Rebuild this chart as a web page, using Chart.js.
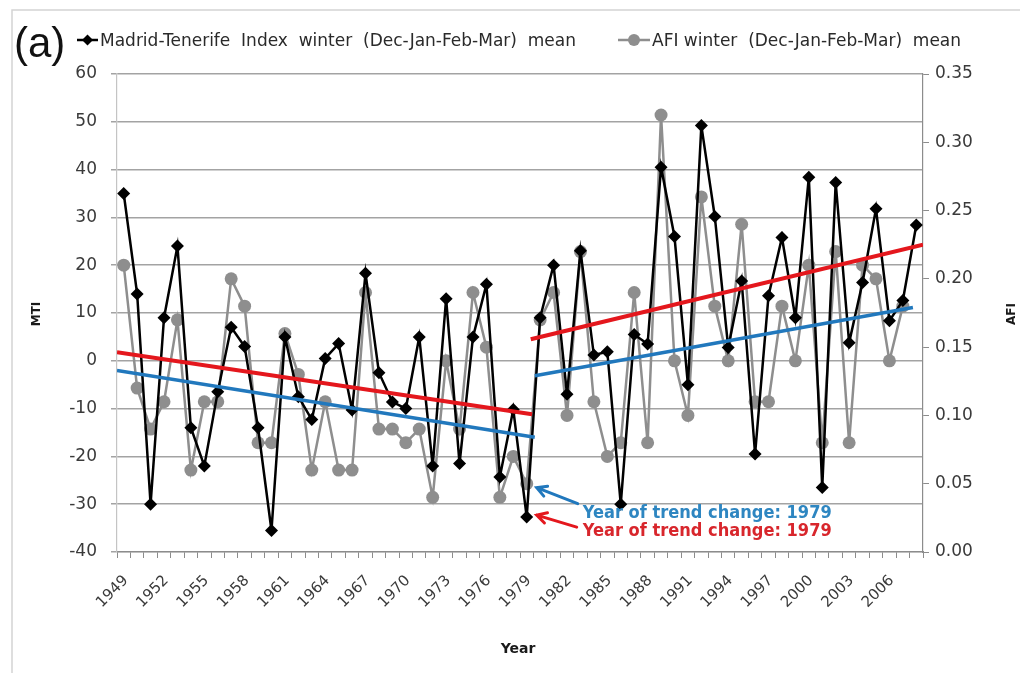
<!DOCTYPE html>
<html>
<head>
<meta charset="utf-8">
<title>MTI and AFI winter mean</title>
<script src="https://cdn.jsdelivr.net/npm/chart.js@4.4.1/dist/chart.umd.min.js"></script>
<style>
  html, body { margin: 0; padding: 0; background: #fff; }
  #wrap { width: 1026px; height: 673px; }
</style>
</head>
<body>
<div id="wrap"><canvas id="chart" width="1026" height="673"></canvas></div>
<script>
// data
const years = [1949, 1950, 1951, 1952, 1953, 1954, 1955, 1956, 1957, 1958,
  1959, 1960, 1961, 1962, 1963, 1964, 1965, 1966, 1967, 1968,
  1969, 1970, 1971, 1972, 1973, 1974, 1975, 1976, 1977, 1978,
  1979, 1980, 1981, 1982, 1983, 1984, 1985, 1986, 1987, 1988,
  1989, 1990, 1991, 1992, 1993, 1994, 1995, 1996, 1997, 1998,
  1999, 2000, 2001, 2002, 2003, 2004, 2005, 2006, 2007, 2008];
const mti = [35, 14, -30, 9, 24, -14, -22, -6.5, 7, 3,
  -14, -35.5, 5, -7.5, -12.3, 0.5, 3.6, -10.3, 18.3, -2.5,
  -8.6, -10, 5, -22, 13, -21.5, 5, 16, -24.3, -10.2,
  -32.7, 9, 20, -7, 23, 1.2, 1.9, -30, 5.5, 3.5,
  40.5, 26, -5, 49.2, 30.2, 2.8, 16.7, -19.5, 13.6, 25.8,
  9, 38.4, -26.5, 37.3, 3.8, 16.4, 31.8, 8.4, 12.6, 28.4];
const afi = [0.21, 0.12, 0.09, 0.11, 0.17, 0.06, 0.11, 0.11, 0.20, 0.18,
  0.08, 0.08, 0.16, 0.13, 0.06, 0.11, 0.06, 0.06, 0.19, 0.09,
  0.09, 0.08, 0.09, 0.04, 0.14, 0.09, 0.19, 0.15, 0.04, 0.07,
  0.05, 0.17, 0.19, 0.10, 0.22, 0.11, 0.07, 0.08, 0.19, 0.08,
  0.32, 0.14, 0.10, 0.26, 0.18, 0.14, 0.24, 0.11, 0.11, 0.18,
  0.14, 0.21, 0.08, 0.22, 0.08, 0.21, 0.20, 0.14, 0.18, null];
const labelYears = [1949, 1952, 1955, 1958, 1961, 1964, 1967, 1970, 1973, 1976,
  1979, 1982, 1985, 1988, 1991, 1994, 1997, 2000, 2003, 2006];

// trend segments (start, end) as drawn in the figure
const mtiTrendYears = [[1948.5, 1979.4], [1979.3, 2008.5]];
const mtiTrendValues = [[1.8, -11.2], [4.5, 24.3]];
const afiTrendYears = [[1948.5, 1979.6], [1979.6, 2007.75]];
const afiTrendValues = [[0.133, 0.084], [0.129, 0.179]];

const changeYear = 1979;
const mtiName = 'Madrid-Tenerife  Index  winter  (Dec-Jan-Feb-Mar)  mean';
const afiName = 'AFI winter  (Dec-Jan-Feb-Mar)  mean';
const changeText = 'Year of trend change: 1979';

const BLACK = '#000000';
const GRAY = '#8e8e8e';
const RED = '#e4171d';
const BLUE = '#2178bd';
const TXT = '#3a3a3a';
const FONT = 'DejaVu Sans';

let tickBounds = years.map(y => y - 0.5);
tickBounds.push(years[years.length - 1] + 0.5);

function pairs(xs, ys) {
  return xs.map((x, i) => ({ x: x, y: ys[i] }));
}

function diamond(ctx, x, y, r) {
  ctx.beginPath();
  ctx.moveTo(x, y - r);
  ctx.lineTo(x + r, y);
  ctx.lineTo(x, y + r);
  ctx.lineTo(x - r, y);
  ctx.closePath();
  ctx.fill();
}

function arrow(ctx, x1, y1, x2, y2, color) {
  let a = Math.atan2(y2 - y1, x2 - x1);
  ctx.save();
  ctx.strokeStyle = color;
  ctx.lineWidth = 3;
  ctx.lineCap = 'round';
  ctx.beginPath();
  ctx.moveTo(x1, y1);
  ctx.lineTo(x2, y2);
  ctx.moveTo(x2 - 11 * Math.cos(a - 0.5), y2 - 11 * Math.sin(a - 0.5));
  ctx.lineTo(x2, y2);
  ctx.lineTo(x2 - 11 * Math.cos(a + 0.5), y2 - 11 * Math.sin(a + 0.5));
  ctx.stroke();
  ctx.restore();
}

// everything Chart.js does not draw by itself: frame, legend, titles, notes
const extras = {
  id: 'extras',
  afterDraw(chart) {
    const ctx = chart.ctx;
    const sx = chart.scales.x, sy = chart.scales.y, sy1 = chart.scales.y1;
    ctx.save();

    ctx.strokeStyle = '#d4d4d4';
    ctx.lineWidth = 1.5;
    ctx.beginPath();
    ctx.moveTo(12, 673);
    ctx.lineTo(12, 10);
    ctx.lineTo(1020, 10);
    ctx.stroke();

    ctx.fillStyle = '#111';
    ctx.font = '42px "Liberation Sans"';
    ctx.textBaseline = 'alphabetic';
    ctx.textAlign = 'left';
    ctx.fillText('(a)', 14, 57);

    // legend
    ctx.strokeStyle = BLACK;
    ctx.fillStyle = BLACK;
    ctx.lineWidth = 2.5;
    ctx.beginPath(); ctx.moveTo(77, 40); ctx.lineTo(98, 40); ctx.stroke();
    diamond(ctx, 87.5, 40, 5.5);
    ctx.fillStyle = '#2a2a2a';
    ctx.font = '17px ' + FONT;
    ctx.fillText(mtiName, 100, 46, 502);

    ctx.strokeStyle = GRAY;
    ctx.fillStyle = GRAY;
    ctx.beginPath(); ctx.moveTo(618, 40); ctx.lineTo(650, 40); ctx.stroke();
    ctx.beginPath(); ctx.arc(634, 40, 6, 0, Math.PI * 2); ctx.fill();
    ctx.fillStyle = '#2a2a2a';
    ctx.fillText(afiName, 652, 46, 318);

    // axis titles
    ctx.fillStyle = '#1a1a1a';
    ctx.font = 'bold 12px ' + FONT;
    ctx.textAlign = 'center';
    ctx.textBaseline = 'middle';
    ctx.save();
    ctx.translate(37, 314); ctx.rotate(-Math.PI / 2);
    ctx.fillText('MTI', 0, 0);
    ctx.restore();
    ctx.save();
    ctx.translate(1012, 314); ctx.rotate(-Math.PI / 2);
    ctx.fillText('AFI', 0, 0);
    ctx.restore();
    ctx.font = 'bold 14px ' + FONT;
    ctx.fillText('Year', 518, 649);

    // trend change notes
    let px = sx.getPixelForValue(changeYear);
    let pMti = sy.getPixelForValue(mti[years.indexOf(changeYear)]);
    let pAfi = sy1.getPixelForValue(afi[years.indexOf(changeYear)]);
    arrow(ctx, px + 51, pAfi + 20, px + 10, pAfi + 4, BLUE);
    arrow(ctx, px + 50, pMti + 10, px + 10, pMti - 2, RED);
    ctx.textAlign = 'left';
    ctx.textBaseline = 'alphabetic';
    ctx.font = 'bold 17px ' + FONT;
    ctx.fillStyle = '#2e86c1';
    ctx.fillText(changeText, px + 56, pAfi + 34, 249);
    ctx.fillStyle = '#d8262c';
    ctx.fillText(changeText, px + 56, pMti + 19, 249);

    ctx.restore();
  }
};

let datasets = [
  {
    label: mtiName,
    data: pairs(years, mti),
    yAxisID: 'y',
    borderColor: BLACK,
    backgroundColor: BLACK,
    borderWidth: 2.5,
    pointStyle: 'rectRot',
    pointRadius: 6.5,
    pointBorderWidth: 0,
    order: 1
  },
  {
    label: afiName,
    data: pairs(years, afi),
    yAxisID: 'y1',
    borderColor: GRAY,
    backgroundColor: GRAY,
    borderWidth: 2.5,
    pointStyle: 'circle',
    pointRadius: 6.5,
    pointBorderWidth: 0,
    order: 2
  }
];

mtiTrendYears.forEach((xs, i) => {
  datasets.push({
    label: 'MTI trend ' + (i + 1),
    data: pairs(xs, mtiTrendValues[i]),
    yAxisID: 'y',
    borderColor: RED,
    borderWidth: 4,
    pointRadius: 0,
    order: 0
  });
});
afiTrendYears.forEach((xs, i) => {
  datasets.push({
    label: 'AFI trend ' + (i + 1),
    data: pairs(xs, afiTrendValues[i]),
    yAxisID: 'y1',
    borderColor: BLUE,
    borderWidth: 3.5,
    pointRadius: 0,
    order: 0
  });
});

new Chart(document.getElementById('chart'), {
  type: 'line',
  data: { datasets: datasets },
  options: {
    responsive: false,
    animation: false,
    events: [],
    layout: { padding: { left: 12, right: 12, top: 74, bottom: 0 } },
    plugins: { legend: { display: false }, tooltip: { enabled: false } },
    scales: {
      x: {
        type: 'linear',
        min: tickBounds[0],
        max: tickBounds[tickBounds.length - 1],
        afterBuildTicks: axis => { axis.ticks = tickBounds.map(v => ({ value: v })); },
        afterFit: scale => { scale.height = 121; },
        grid: { drawOnChartArea: false, tickLength: 6, color: '#8c8c8c' },
        border: { color: '#8c8c8c', width: 1.2 },
        ticks: {
          autoSkip: false,
          maxRotation: 45,
          minRotation: 45,
          padding: 14,
          labelOffset: 9,
          color: TXT,
          font: { family: FONT, size: 15 },
          callback: v => labelYears.includes(v + 0.5) ? String(v + 0.5) : ''
        }
      },
      y: {
        position: 'left',
        min: -40,
        max: 60,
        afterFit: scale => { scale.width = 105; },
        grid: { color: '#a3a3a3', lineWidth: 1.5, tickLength: 6 },
        border: { color: '#c4c4c4', width: 1.2 },
        ticks: { stepSize: 10, padding: 14, color: TXT, font: { family: FONT, size: 17 } }
      },
      y1: {
        position: 'right',
        min: 0,
        max: 0.35,
        afterFit: scale => { scale.width = 91; },
        grid: { drawOnChartArea: false, tickLength: 6, color: '#8c8c8c' },
        border: { color: '#8c8c8c', width: 1.2 },
        ticks: {
          stepSize: 0.05,
          padding: 6,
          color: TXT,
          font: { family: FONT, size: 17 },
          callback: v => v.toFixed(2)
        }
      }
    }
  },
  plugins: [extras]
});
</script>
</body>
</html>
